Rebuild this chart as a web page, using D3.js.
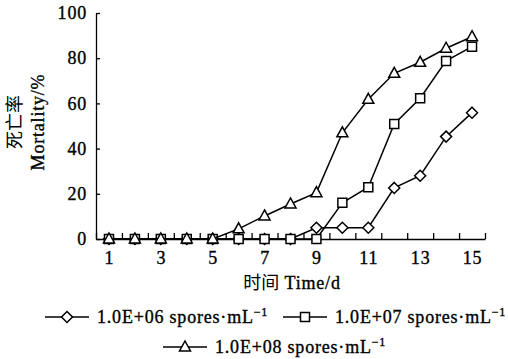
<!DOCTYPE html>
<html><head><meta charset="utf-8">
<script src="https://cdn.jsdelivr.net/npm/d3@7"></script>
<style>
html,body{margin:0;padding:0;background:#fff;}
svg{display:block;}
</style></head>
<body>
<svg id="c" width="508" height="359"></svg>
<script>
const days = [1,2,3,4,5,6,7,8,9,10,11,12,13,14,15];
const seriesNames = ["1.0E+06 spores·mL", "1.0E+07 spores·mL", "1.0E+08 spores·mL"];
const s06 = [0,0,0,0,0,0,0,0,5,5,5,22.6,28,45.3,55.9];
const s07 = [0,0,0,0,0,0,0,0,0,16,22.9,50.9,62.3,78.8,85.1];
const s08 = [0,0,0,0,0,4.5,10.2,15.5,20.5,47,61.8,73.3,78.2,84.4,89.5];
const yTicks = [0,20,40,60,80,100];
const xLabels = [1,3,5,7,9,11,13,15];
const markers = ["diamond","square","triangle"];

const SERIF = "'Liberation Serif','Times New Roman',serif";
const CJK = "'Noto Sans CJK SC',sans-serif";
const FS = "18px";
const LS = "0.8px";
function styleText(sel){
  return sel.style("font-family",SERIF).style("font-size",FS).style("letter-spacing",LS)
    .style("fill","#000").style("stroke","#000").style("stroke-width","0.35px");
}

const svg = d3.select("#c");
const x = d3.scaleLinear().domain([0.5,15.5]).range([96,485]);
const y = d3.scaleLinear().domain([0,100]).range([239,13]);

// y axis
const ya = svg.append("g").attr("transform","translate(96,0)")
  .call(d3.axisLeft(y).tickValues(yTicks).tickSize(-4).tickSizeOuter(0).tickPadding(9));
styleText(ya.selectAll("text"));
ya.selectAll("path,line").attr("stroke","#000").attr("stroke-width",1.3);

// x axis ticks between categories
const xa = svg.append("g").attr("transform","translate(0,239)")
  .call(d3.axisBottom(x).tickValues(d3.range(0.5,16,1)).tickSize(-6).tickSizeOuter(0).tickFormat(""));
xa.selectAll("path,line").attr("stroke","#000").attr("stroke-width",1.3);
const xl = svg.append("g").attr("transform","translate(0,239)")
  .call(d3.axisBottom(x).tickValues(xLabels).tickSize(0).tickPadding(12).tickFormat(d3.format("d")));
xl.select(".domain").remove();
styleText(xl.selectAll("text"));

// titles
const xt = styleText(svg.append("text").attr("x",292).attr("y",289).attr("text-anchor","middle"));
xt.append("tspan").style("font-family",CJK).style("letter-spacing","0px").style("stroke-width","0px").text("时间");
xt.append("tspan").text(" Time/d");
const yt = svg.append("g").attr("transform","translate(0,122) rotate(-90)");
yt.append("text").attr("x",0).attr("y",21).attr("text-anchor","middle")
  .style("font-family",CJK).style("font-size",FS).text("死亡率");
styleText(yt.append("text").attr("x",0).attr("y",44).attr("text-anchor","middle")).text("Mortality/%");

// symbols
function drawMarker(g, type, cx, cy){
  let p;
  if(type==="diamond") p = `M${cx},${cy-5.5}L${cx+5.5},${cy}L${cx},${cy+5.5}L${cx-5.5},${cy}Z`;
  else if(type==="square") p = `M${cx-4.5},${cy-4.5}h9v9h-9Z`;
  else p = `M${cx},${cy-6}L${cx+5.5},${cy+4}L${cx-5.5},${cy+4}Z`;
  g.append("path").attr("d",p).attr("fill","#fff").attr("stroke","#000").attr("stroke-width",1.5);
}

const line = d3.line().x((d,i)=>x(days[i])).y(d=>y(d));
[s06,s07,s08].forEach((s,k)=>{
  const g = svg.append("g");
  g.append("path").datum(s).attr("d",line).attr("fill","none").attr("stroke","#000").attr("stroke-width",1.5);
  s.forEach((v,i)=>drawMarker(g, markers[k], x(days[i]), y(v)));
});

// legend
const legPos = [[45,317],[283,317],[163,347]];
seriesNames.forEach((n,k)=>{
  const [lx,ly] = legPos[k];
  const g = svg.append("g");
  g.append("line").attr("x1",lx).attr("x2",lx+44).attr("y1",ly).attr("y2",ly).attr("stroke","#000").attr("stroke-width",1.5);
  drawMarker(g, markers[k], lx+22, ly);
  const t = styleText(g.append("text").attr("x",lx+52).attr("y",ly+6));
  t.append("tspan").text(n);
  t.append("tspan").attr("dy",-7).style("font-size","12px").text("−1");
});
</script>
</body></html>
